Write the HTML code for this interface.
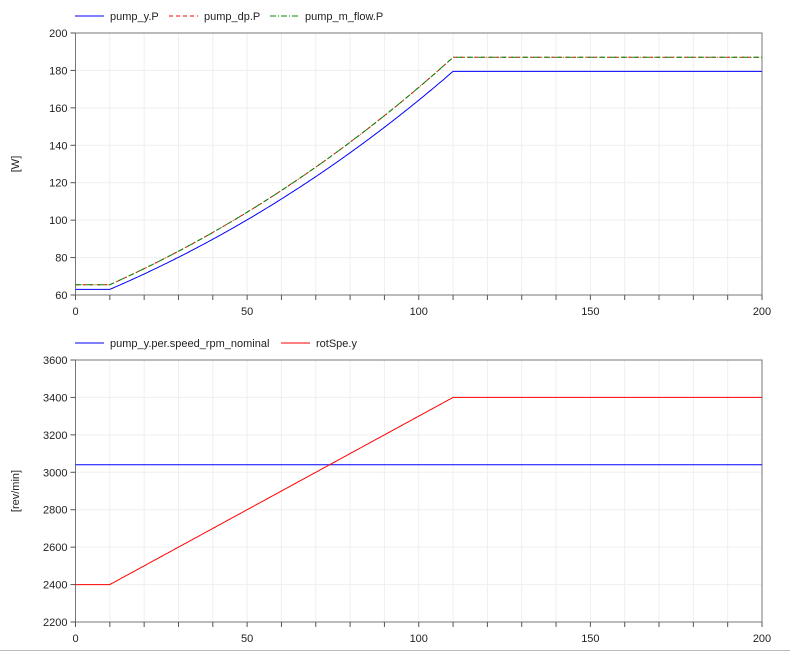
<!DOCTYPE html>
<html><head><meta charset="utf-8"><style>
body{margin:0;background:#fff;}
svg{font-family:"Liberation Sans",sans-serif;font-size:11px;}
</style></head><body>
<svg id="s" width="790" height="652" xmlns="http://www.w3.org/2000/svg"></svg>
<script>
const s=document.getElementById('s');
let h='';
const X0=75.5,X1=762;
const xm=t=>X0+(X1-X0)*t/200;
function axes(top,bot,vmin,vmax,gstep,lstep,label){
  const ym=v=>top+(vmax-v)/(vmax-vmin)*(bot-top);
  for(let t=10;t<200;t+=10){h+=`<line x1="${xm(t)}" y1="${top}" x2="${xm(t)}" y2="${bot}" stroke="#efefef"/>`;}
  for(let v=vmin+gstep;v<vmax;v+=gstep){h+=`<line x1="${X0}" y1="${ym(v)}" x2="${X1}" y2="${ym(v)}" stroke="#efefef"/>`;}
  h+=`<rect x="${X0}" y="${top}" width="${X1-X0}" height="${bot-top}" fill="none" stroke="#777"/>`;
  for(let t=0;t<=200;t+=10){h+=`<line x1="${xm(t)}" y1="${bot}" x2="${xm(t)}" y2="${bot+5}" stroke="#555"/>`;}
  for(let t=0;t<=200;t+=50){h+=`<text x="${xm(t)}" y="${bot+20}" text-anchor="middle" fill="#222">${t}</text>`;}
  for(let v=vmin;v<=vmax;v+=lstep){h+=`<line x1="${X0-5}" y1="${ym(v)}" x2="${X0}" y2="${ym(v)}" stroke="#555"/><text x="${X0-8}" y="${ym(v)+4}" text-anchor="end" fill="#222">${v}</text>`;}
  h+=`<text transform="translate(19,${(top+bot)/2}) rotate(-90)" text-anchor="middle" fill="#222">${label}</text>`;
  return ym;
}
const y1=axes(33,295,60,200,20,20,'[W]');
const y2=axes(360,622,2200,3600,200,200,'[rev/min]');
const spd=t=>t<10?2400:(t>110?3400:2400+10*(t-10));
const r=t=>Math.pow(spd(t)/3400,3);
function P(a,b,t){return a+(b-a)*(r(t)-0.3517)/0.6483;}
function pts(f,ym){let p=[];for(let t=0;t<=200;t+=0.5)p.push(xm(t).toFixed(1)+','+ym(f(t)).toFixed(1));return p.join(' ');}
h+=`<polyline points="${pts(t=>P(63,179.5,t),y1)}" fill="none" stroke="#00f" stroke-width="1"/>`;
h+=`<polyline points="${pts(t=>P(65.5,187,t),y1)}" fill="none" stroke="#f00" stroke-width="1" stroke-dasharray="4,3"/>`;
h+=`<polyline points="${pts(t=>P(65.5,187,t),y1)}" fill="none" stroke="#080" stroke-width="1" stroke-dasharray="6,2,1,2"/>`;
h+=`<line x1="${X0}" y1="${y2(3040)}" x2="${X1}" y2="${y2(3040)}" stroke="#00f"/>`;
h+=`<polyline points="${pts(spd,y2)}" fill="none" stroke="#f00"/>`;
h+=`<line x1="75" y1="16" x2="104" y2="16" stroke="#00f"/><text x="110" y="20" fill="#222">pump_y.P</text>`;
h+=`<line x1="169" y1="16" x2="198" y2="16" stroke="#f00" stroke-dasharray="4,3"/><text x="204" y="20" fill="#222">pump_dp.P</text>`;
h+=`<line x1="270" y1="16" x2="299" y2="16" stroke="#080" stroke-dasharray="6,2,1,2"/><text x="305" y="20" fill="#222">pump_m_flow.P</text>`;
h+=`<line x1="75" y1="343" x2="104" y2="343" stroke="#00f"/><text x="110" y="347" fill="#222">pump_y.per.speed_rpm_nominal</text>`;
h+=`<line x1="281" y1="343" x2="310" y2="343" stroke="#f00"/><text x="316" y="347" fill="#222">rotSpe.y</text>`;
h+=`<line x1="0" y1="650.5" x2="790" y2="650.5" stroke="#bbb"/>`;
s.innerHTML=h;
</script>
</body></html>
